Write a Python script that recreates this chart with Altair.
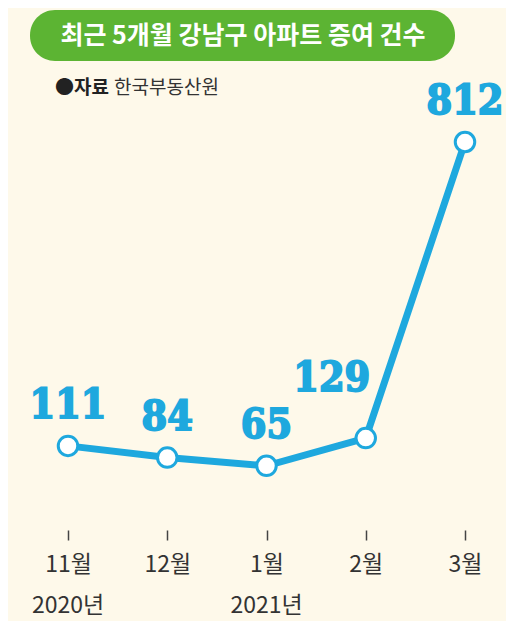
import altair as alt
import pandas as pd

months = ["11월", "12월", "1월", "2월", "3월"]
years = ["2020년", "", "2021년", "", ""]
counts = [111, 84, 65, 129, 812]

title_text = "최근 5개월 강남구 아파트 증여 건수"
source_bold = "●자료"
source_text = "한국부동산원"

BG = "#fef9ea"
BLUE = "#1ea8de"
GREEN = "#5cb433"
KR = "Noto Sans CJK KR"

df = pd.DataFrame({"month": months, "year": years, "count": counts})

W, H = 397, 352

x = alt.X("month:N", sort=months,
          scale=alt.Scale(type="point", padding=0),
          axis=alt.Axis(title=None, labelAngle=0, domain=False, grid=False,
                        offset=36, tickSize=10, tickWidth=1.5, tickColor="#444",
                        labelFont=KR, labelFontSize=23, labelColor="#333",
                        labelPadding=13))
y = alt.Y("count:Q", scale=alt.Scale(domain=[0, 812], nice=False), axis=None)

base = alt.Chart(df)

line = base.mark_line(color=BLUE, strokeWidth=7).encode(x=x, y=y)
pts = base.mark_point(shape="circle", filled=True, fill="white", stroke=BLUE,
                      strokeWidth=3, size=380, opacity=1).encode(x=x, y=y)

lab_font = dict(font="DejaVu Serif Condensed", fontWeight="bold", fontSize=41, color=BLUE,
                stroke=BLUE, strokeWidth=1.8, align="center", baseline="alphabetic")
labels = base.transform_filter(alt.datum.month != "2월").mark_text(dy=-28, **lab_font).encode(
    x=x, y=y, text=alt.Text("count:Q"))
label_129 = base.transform_filter(alt.datum.month == "2월").mark_text(dx=-34, dy=-47, **lab_font).encode(
    x=x, y=y, text=alt.Text("count:Q"))

year_lbl = base.mark_text(font=KR, fontSize=23, color="#333", baseline="middle").encode(
    x=x, y=alt.value(H + 112), text="year:N")

banner_df = pd.DataFrame({"t": [title_text]})
banner = alt.Chart(banner_df).mark_rect(color=GREEN, cornerRadius=25).encode(
    x=alt.value(-38), x2=alt.value(387), y=alt.value(-132), y2=alt.value(-81))
banner_txt = alt.Chart(banner_df).mark_text(font=KR, fontWeight="bold", fontSize=25,
                                             color="white", baseline="middle").encode(
    x=alt.value(175), y=alt.value(-106), text="t:N")

src_df = pd.DataFrame({"a": [source_bold], "b": [source_text]})
src1 = alt.Chart(src_df).mark_text(font=KR, fontWeight="bold", fontSize=19, color="#222",
                                    align="left", baseline="middle").encode(
    x=alt.value(-13), y=alt.value(-54), text="a:N")
src2 = alt.Chart(src_df).mark_text(font=KR, fontSize=19, color="#333",
                                    align="left", baseline="middle").encode(
    x=alt.value(46), y=alt.value(-54), text="b:N")

chart = alt.layer(banner, banner_txt, src1, src2, line, pts, labels, label_129, year_lbl).properties(
    width=W, height=H,
    autosize=alt.AutoSizeParams(type="none"),
    padding={"left": 60, "top": 134, "right": 41, "bottom": 127},
    background=BG,
).configure_view(stroke=None)

chart.save("out.html", embed_options={"renderer": "svg", "actions": False})
